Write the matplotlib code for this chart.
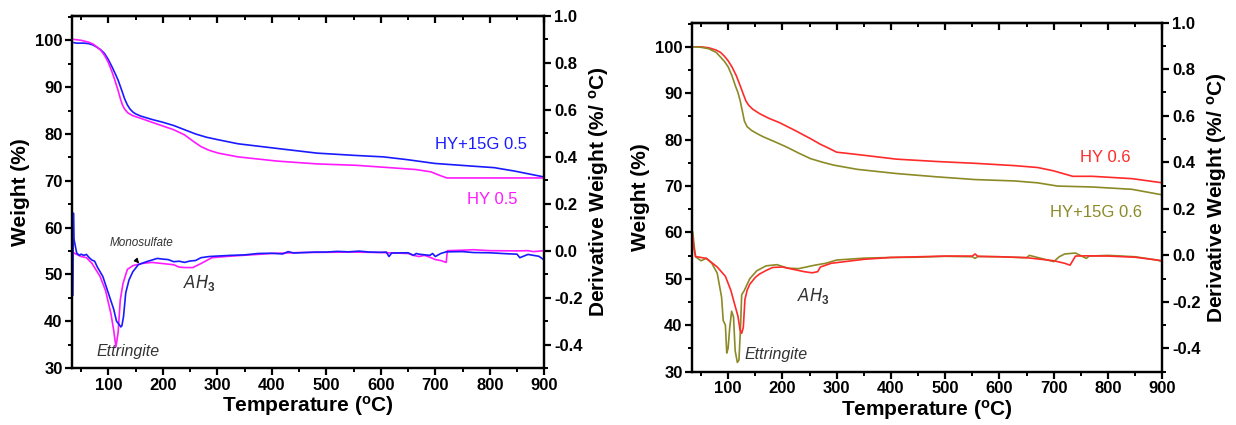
import numpy as np
import matplotlib
matplotlib.use("Agg")
from matplotlib import pyplot as plt
from matplotlib.ticker import MultipleLocator

plt.rcParams['font.family'] = ['Liberation Sans', 'DejaVu Sans']
plt.rcParams['mathtext.fontset'] = 'custom'
plt.rcParams['mathtext.rm'] = 'Liberation Sans:bold'
plt.rcParams['mathtext.bf'] = 'Liberation Sans:bold'

# ---- left panel: w/c 0.5 ----
# weight curves (TG)
t_hy15g_05 = [37, 42, 55, 64, 72, 78, 86, 93, 100, 107, 113, 118, 125, 130, 135, 140, 145, 150, 160, 180, 200, 220, 240, 260, 280, 300, 338, 410, 483, 555, 605, 649, 699, 771, 808, 844, 900]
w_hy15g_05 = [99.5, 99.4, 99.4, 99.3, 99.0, 98.6, 98.0, 97.2, 95.9, 94.3, 92.8, 91.5, 89.2, 87.5, 86.2, 85.3, 84.7, 84.3, 83.8, 83.1, 82.5, 81.8, 80.9, 80.0, 79.3, 78.8, 77.9, 76.9, 75.9, 75.4, 75.1, 74.5, 73.7, 73.1, 72.8, 72.1, 70.8]
t_hy_05 = [37, 50, 64, 72, 78, 86, 93, 100, 107, 112, 118, 122, 126, 130, 136, 145, 158, 180, 200, 220, 240, 255, 270, 285, 302, 338, 410, 483, 555, 628, 664, 692, 707, 721, 771, 900]
w_hy_05 = [100.2, 100.0, 99.6, 99.2, 98.7, 97.9, 96.8, 95.3, 93.2, 91.5, 89.3, 87.6, 86.2, 85.3, 84.5, 83.9, 83.4, 82.5, 81.7, 80.9, 79.8, 78.5, 77.3, 76.5, 75.9, 75.1, 74.2, 73.6, 73.3, 72.7, 72.4, 71.9, 71.2, 70.6, 70.6, 70.6]

# derivative curves (DTG)
td_hy15g_05 = [35, 36, 37, 42, 47, 50, 55, 60, 65, 70, 75, 80, 90, 100, 110, 115, 120, 123, 125, 128, 132, 138, 145, 155, 170, 180, 190, 200, 210, 220, 230, 240, 250, 260, 270, 285, 300, 325, 350, 375, 400, 420, 430, 440, 460, 480, 500, 520, 540, 560, 580, 600, 610, 615, 620, 650, 660, 665, 670, 690, 695, 700, 710, 720, 750, 770, 800, 830, 850, 855, 870, 880, 890, 900]
d_hy15g_05 = [-0.19, 0.16, 0.05, -0.01, -0.02, -0.015, -0.02, -0.016, -0.03, -0.04, -0.045, -0.07, -0.11, -0.18, -0.25, -0.30, -0.315, -0.325, -0.32, -0.28, -0.18, -0.125, -0.09, -0.06, -0.047, -0.04, -0.033, -0.036, -0.038, -0.047, -0.045, -0.05, -0.044, -0.042, -0.03, -0.025, -0.023, -0.02, -0.018, -0.012, -0.011, -0.014, -0.004, -0.01, -0.008, -0.006, -0.006, -0.003, -0.005, -0.002, -0.006, -0.007, -0.006, -0.025, -0.01, -0.009, -0.02, -0.012, -0.015, -0.02, -0.012, -0.025, -0.012, -0.005, -0.004, -0.008, -0.009, -0.013, -0.015, -0.03, -0.016, -0.02, -0.024, -0.04]
td_hy_05 = [37, 50, 60, 70, 85, 95, 105, 110, 114, 118, 122, 127, 135, 145, 160, 180, 200, 220, 230, 240, 255, 270, 290, 320, 360, 400, 450, 500, 550, 600, 650, 660, 670, 680, 690, 700, 710, 720, 722, 750, 770, 800, 850, 870, 880, 900]
d_hy_05 = [-0.01, -0.025, -0.03, -0.054, -0.11, -0.17, -0.27, -0.34, -0.41, -0.35, -0.21, -0.14, -0.08, -0.064, -0.055, -0.05, -0.055, -0.06, -0.07, -0.072, -0.072, -0.055, -0.03, -0.024, -0.018, -0.012, -0.008, -0.007, -0.006, -0.008, -0.012, -0.02, -0.025, -0.02, -0.028, -0.038, -0.042, -0.05, 0.0, 0.002, 0.004, 0.0, -0.001, 0.0, -0.004, 0.0]

# ---- right panel: w/c 0.6 ----
t_hy_06 = [37, 50, 64, 78, 86, 93, 100, 107, 115, 122, 128, 133, 138, 145, 158, 175, 194, 223, 252, 270, 281, 300, 338, 410, 483, 555, 628, 670, 699, 735, 771, 844, 900]
w_hy_06 = [100.0, 100.0, 99.8, 99.3, 98.8, 98.0, 97.0, 95.7, 93.8, 91.7, 89.8, 88.3, 87.4, 86.6, 85.6, 84.6, 83.7, 82.0, 80.2, 79.0, 78.4, 77.3, 76.8, 75.8, 75.3, 74.9, 74.4, 74.0, 73.3, 72.1, 72.1, 71.6, 70.7]
t_hy15g_06 = [37, 50, 64, 78, 86, 93, 100, 107, 114, 118, 122, 126, 130, 135, 143, 155, 165, 185, 208, 230, 252, 275, 295, 338, 410, 483, 555, 628, 670, 707, 771, 844, 900]
w_hy15g_06 = [100.0, 99.9, 99.6, 98.8, 97.8, 96.9, 95.7, 93.8, 91.4, 90.2, 88.5, 86.3, 84.0, 82.8, 82.0, 81.2, 80.6, 79.6, 78.4, 77.1, 75.9, 75.1, 74.5, 73.6, 72.7, 72.0, 71.4, 71.1, 70.7, 70.0, 69.8, 69.3, 68.1]

td_hy_06 = [35, 37, 40, 60, 80, 95, 105, 112, 118, 122, 125, 128, 131, 135, 140, 150, 158, 170, 182, 200, 220, 240, 255, 265, 270, 290, 350, 400, 450, 500, 550, 555, 560, 600, 650, 700, 720, 730, 740, 760, 800, 850, 890, 900]
d_hy_06 = [0.08, 0.03, -0.005, -0.013, -0.05, -0.09, -0.15, -0.21, -0.26, -0.32, -0.335, -0.31, -0.19, -0.15, -0.124, -0.095, -0.08, -0.065, -0.052, -0.05, -0.06, -0.07, -0.075, -0.07, -0.05, -0.034, -0.017, -0.009, -0.006, -0.003, -0.003, 0.006, -0.004, -0.006, -0.01, -0.023, -0.034, -0.042, -0.003, -0.002, -0.003, -0.008, -0.02, -0.023]
td_hy15g_06 = [35, 37, 40, 50, 60, 70, 80, 88, 91, 95, 97.5, 100, 103, 106.5, 110, 113, 117, 120, 123, 125, 130, 140, 153, 170, 190, 210, 230, 260, 280, 300, 350, 400, 450, 500, 550, 555, 560, 600, 650, 655, 700, 710, 720, 740, 760, 765, 800, 850, 890, 900]
d_hy15g_06 = [0.10, 0.05, -0.006, -0.023, -0.013, -0.034, -0.077, -0.18, -0.28, -0.30, -0.42, -0.40, -0.31, -0.24, -0.265, -0.41, -0.46, -0.45, -0.30, -0.17, -0.15, -0.10, -0.066, -0.045, -0.04, -0.055, -0.057, -0.042, -0.034, -0.02, -0.012, -0.009, -0.008, -0.004, -0.006, -0.013, -0.005, -0.006, -0.01, 0.0, -0.027, -0.006, 0.006, 0.01, -0.013, -0.003, 0.0, -0.006, -0.02, -0.027]

blue = '#1a1aff'
magenta = '#ff1aff'
red = '#ff2a2a'
olive = '#8c8a26'

fig = plt.figure(figsize=(12.36, 4.25), dpi=100)
ax_l = fig.add_axes([0.0585, 0.1341, 0.3819, 0.8283])
ax_r = fig.add_axes([0.5601, 0.1254, 0.3803, 0.8212])


def style(ax):
    ax2 = ax.twinx()
    ax.set_xlim(34, 900)
    ax.set_ylim(30, 105.2)
    ax2.set_ylim(-0.5, 1.0)
    ax.xaxis.set_major_locator(MultipleLocator(100))
    ax.xaxis.set_minor_locator(MultipleLocator(50))
    ax.yaxis.set_major_locator(MultipleLocator(10))
    ax.yaxis.set_minor_locator(MultipleLocator(5))
    ax2.yaxis.set_major_locator(MultipleLocator(0.2))
    ax2.yaxis.set_minor_locator(MultipleLocator(0.1))
    ax2.set_yticks([-0.4, -0.2, 0.0, 0.2, 0.4, 0.6, 0.8, 1.0])
    ax2.set_yticklabels(['-0.4', '-0.2', '0.0', '0.2', '0.4', '0.6', '0.8', '1.0'])
    for a in (ax, ax2):
        for s in a.spines.values():
            s.set_linewidth(1.6)
        a.tick_params(which='major', direction='out', length=5, width=1.6, labelsize=12, pad=2)
        a.tick_params(which='minor', direction='out', length=3, width=1.4)
    for lab in ax.get_xticklabels() + ax.get_yticklabels() + ax2.get_yticklabels():
        lab.set_fontweight('bold')
    top = ax.secondary_xaxis('top')
    top.xaxis.set_major_locator(MultipleLocator(100))
    top.xaxis.set_minor_locator(MultipleLocator(50))
    top.tick_params(which='major', direction='in', length=5, width=1.6, labeltop=False)
    top.tick_params(which='minor', direction='in', length=3, width=1.4)
    top.spines['top'].set_linewidth(1.6)
    ax.set_xlabel(r'Temperature ($\mathbf{^o}$C)', fontsize=15, fontweight='bold', labelpad=1)
    ax.set_ylabel('Weight (%)', fontsize=15, fontweight='bold', labelpad=4)
    ax2.set_ylabel(r'Derivative Weight (%/ $\mathbf{^o}$C)', fontsize=15, fontweight='bold', labelpad=3)
    return ax2


ax2_l = style(ax_l)
ax_l.plot(t_hy15g_05, w_hy15g_05, color=blue, lw=1.2)
ax_l.plot(t_hy_05, w_hy_05, color=magenta, lw=1.2)
ax2_l.plot(td_hy_05, d_hy_05, color=magenta, lw=1.2)
ax2_l.plot(td_hy15g_05, d_hy15g_05, color=blue, lw=1.2)
ax_l.text(700, 77.7, 'HY+15G 0.5', color=blue, fontsize=12, va='center')
ax_l.text(758, 65.9, 'HY 0.5', color=magenta, fontsize=12, va='center')
ax_l.text(103, 56.8, 'Monosulfate', fontsize=8.5, style='italic', color='#333333', va='center')
ax_l.annotate('', xy=(160, 51.9), xytext=(147, 53.6),
              arrowprops=dict(arrowstyle='-|>', color='black', lw=0.8, mutation_scale=7))
ax_l.text(237, 48.2, r'$\it{AH_3}$', fontsize=12, color='#333333', va='center')
ax_l.text(79, 33.5, 'Ettringite', fontsize=11.5, style='italic', color='#333333', va='center')

ax2_r = style(ax_r)
ax_r.plot(t_hy_06, w_hy_06, color=red, lw=1.2)
ax_r.plot(t_hy15g_06, w_hy15g_06, color=olive, lw=1.2)
ax2_r.plot(td_hy15g_06, d_hy15g_06, color=olive, lw=1.2)
ax2_r.plot(td_hy_06, d_hy_06, color=red, lw=1.2)
ax_r.text(749, 76.2, 'HY 0.6', color=red, fontsize=12, va='center')
ax_r.text(693, 64.4, 'HY+15G 0.6', color=olive, fontsize=12, va='center')
ax_r.text(227, 46.3, r'$\it{AH_3}$', fontsize=12, color='#333333', va='center')
ax_r.text(131, 33.8, 'Ettringite', fontsize=11.5, style='italic', color='#333333', va='center')

fig.savefig('out.png', dpi=100)
